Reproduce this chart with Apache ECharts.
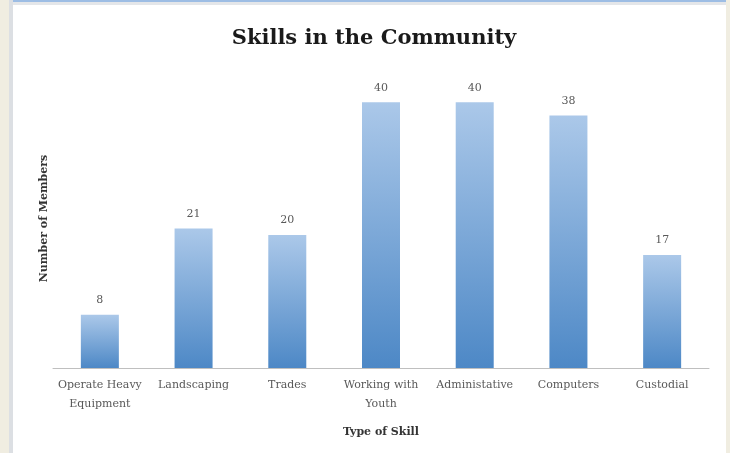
<!DOCTYPE html>
<html>
<head>
<meta charset="utf-8">
<script src="https://cdn.jsdelivr.net/npm/echarts@6/dist/echarts.min.js"></script>
<style>
  html, body { margin: 0; padding: 0; }
  #chart { width: 730px; height: 453px; }
</style>
</head>
<body>
<div id="chart"></div>
<script>
// Skill categories and how many members have each
const skills = ['Operate Heavy\nEquipment', 'Landscaping', 'Trades', 'Working with\nYouth', 'Administative', 'Computers', 'Custodial'];
const members = [8, 21, 20, 40, 40, 38, 17];

const chart = echarts.init(document.getElementById('chart'));
const serif = '"DejaVu Serif", "Liberation Serif", serif';

chart.setOption({
  backgroundColor: '#f0ede1',
  animation: false,
  graphic: [
    // page frame: white sheet with a grey left edge and a blue/grey top rule
    { type: 'rect', z: -10, shape: { x: 9, y: 0, width: 717, height: 453 }, style: { fill: '#ffffff' } },
    { type: 'rect', z: -9, shape: { x: 9, y: 0, width: 4, height: 453 }, style: { fill: '#dcdfe3' } },
    { type: 'rect', z: -9, shape: { x: 13, y: 0, width: 713, height: 2 }, style: { fill: '#9dbde4' } },
    { type: 'rect', z: -9, shape: { x: 13, y: 2, width: 713, height: 3 }, style: { fill: '#e4e6e9' } }
  ],
  title: {
    text: 'Skills in the Community',
    left: 369,
    textAlign: 'center',
    top: 23,
    textStyle: { fontFamily: serif, fontWeight: 'bold', fontSize: 21, color: '#1a1a1a' }
  },
  grid: { left: 53, right: 21, top: 69, bottom: 85 },
  xAxis: {
    type: 'category',
    data: skills,
    name: 'Type of Skill',
    nameLocation: 'middle',
    nameGap: 59,
    nameTextStyle: { fontFamily: serif, fontWeight: 'bold', fontSize: 11, color: '#333333' },
    axisLine: { lineStyle: { color: '#bfbfbf', width: 1 } },
    axisTick: { show: false },
    axisLabel: { interval: 0, margin: 8, lineHeight: 19, fontFamily: serif, fontSize: 11, color: '#595959' }
  },
  yAxis: {
    type: 'value',
    min: 0,
    max: 45,
    name: 'Number of Members',
    nameLocation: 'middle',
    nameGap: 3,
    nameTextStyle: { fontFamily: serif, fontWeight: 'bold', fontSize: 11, color: '#333333' },
    axisLine: { show: false },
    axisTick: { show: false },
    axisLabel: { show: false },
    splitLine: { show: false }
  },
  series: [{
    type: 'bar',
    data: members,
    barWidth: 38,
    itemStyle: {
      color: new echarts.graphic.LinearGradient(0, 0, 0, 1, [
        { offset: 0, color: '#abc8e9' },
        { offset: 1, color: '#4d88c6' }
      ])
    },
    label: {
      show: true,
      position: 'top',
      distance: 9,
      fontFamily: serif,
      fontSize: 11,
      color: '#595959'
    }
  }]
});
</script>
</body>
</html>
